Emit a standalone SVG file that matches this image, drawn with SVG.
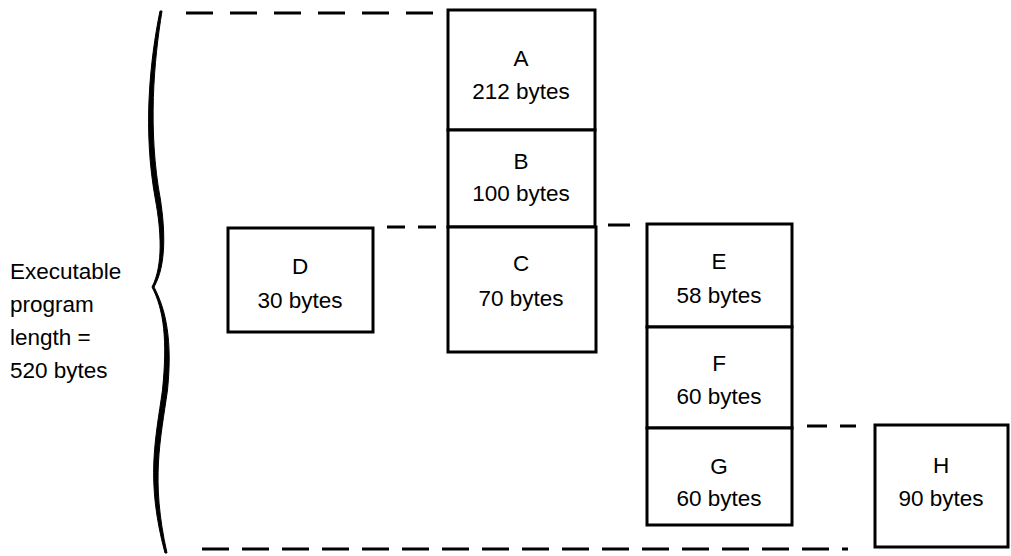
<svg xmlns="http://www.w3.org/2000/svg" width="1011" height="556" viewBox="0 0 1011 556">
<style>
.box{fill:#fff;stroke:#000;stroke-width:3}
.dash{stroke:#000;stroke-width:3;fill:none;stroke-dasharray:27 17}
.t{font-family:"Liberation Sans",Arial,sans-serif;font-size:22.5px;fill:#000;text-anchor:middle}
.lbl{font-family:"Liberation Sans",Arial,sans-serif;font-size:22.5px;fill:#000}
</style>
<rect width="1011" height="556" fill="#fff"/>
<g id="connectors">
<line class="dash" x1="186" y1="13" x2="433" y2="13"/>
<line class="dash" x1="387" y1="227" x2="438" y2="227" style="stroke-dasharray:18 13"/>
<line class="dash" x1="608" y1="225" x2="630" y2="225"/>
<line class="dash" x1="807" y1="426" x2="856" y2="426" style="stroke-dasharray:20 13"/>
<line class="dash" x1="202" y1="549" x2="848" y2="549" style="stroke-dasharray:27 13"/>
</g>
<g id="brace">
<path d="M160,11 C150,60 142.5,130 155.5,200 C161,230 163.5,265 152,287 C164,310 167.5,340 162.5,390 C155.5,440 145.5,480 165,553 L167,553 C150.5,480 160.5,440 167.5,390 C172.5,340 166,310 154,287 C166.5,265 165,230 160.5,200 C147.5,130 154,60 162,11 Z" fill="#000" stroke="#000" stroke-width="1" stroke-linejoin="round"/>
</g>
<g id="label">
<text class="lbl" x="10" y="279">Executable</text>
<text class="lbl" x="10" y="312">program</text>
<text class="lbl" x="10" y="345">length =</text>
<text class="lbl" x="10" y="378">520 bytes</text>
</g>
<g id="A"><rect class="box" x="448" y="10" width="147" height="120"/><text class="t" x="521" y="66">A</text><text class="t" x="521" y="99">212 bytes</text></g>
<g id="B"><rect class="box" x="448" y="130" width="147" height="97"/><text class="t" x="521" y="169">B</text><text class="t" x="521" y="201">100 bytes</text></g>
<g id="C"><rect class="box" x="448" y="227" width="148" height="125"/><text class="t" x="521" y="271">C</text><text class="t" x="521" y="306">70 bytes</text></g>
<g id="D"><rect class="box" x="228" y="228" width="145" height="104"/><text class="t" x="300" y="274">D</text><text class="t" x="300" y="308">30 bytes</text></g>
<g id="E"><rect class="box" x="647" y="224" width="145" height="103"/><text class="t" x="719" y="269">E</text><text class="t" x="719" y="303">58 bytes</text></g>
<g id="F"><rect class="box" x="647" y="327" width="145" height="101"/><text class="t" x="719" y="371">F</text><text class="t" x="719" y="404">60 bytes</text></g>
<g id="G"><rect class="box" x="647" y="428" width="145" height="97"/><text class="t" x="719" y="474">G</text><text class="t" x="719" y="506">60 bytes</text></g>
<g id="H"><rect class="box" x="875" y="425" width="133" height="122"/><text class="t" x="941" y="473">H</text><text class="t" x="941" y="506">90 bytes</text></g>
</svg>
